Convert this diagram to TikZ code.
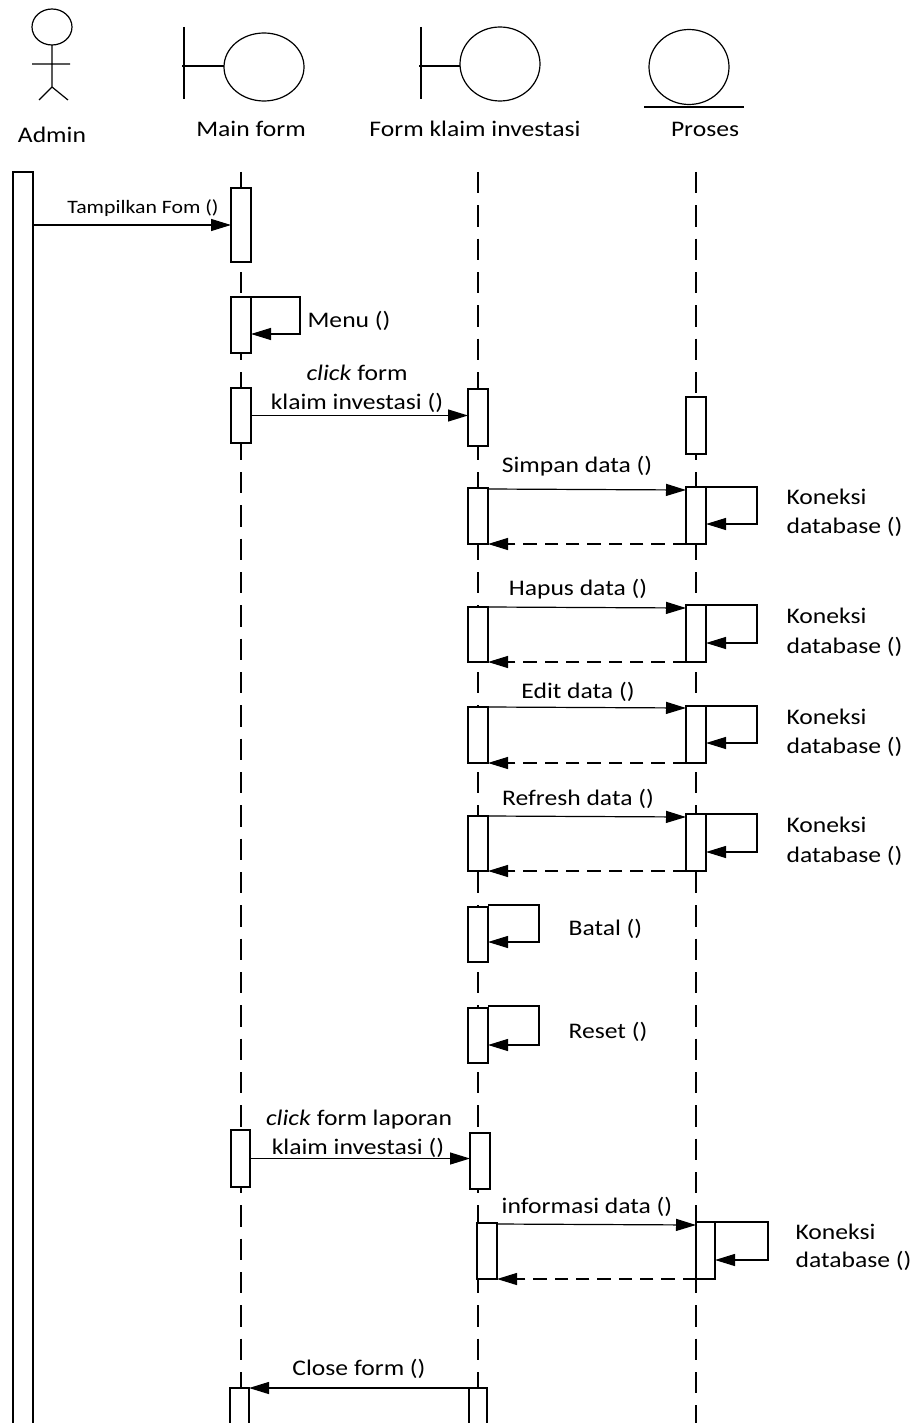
\documentclass[tikz,border=0pt]{standalone}
\usepackage{fontspec}
\setmainfont{Carlito}[FakeStretch=1.15]
\usetikzlibrary{arrows.meta,calc}
\newcommand\actbox[5]{\node[act, minimum width={(#4-#2)*0.75pt}, minimum height={(#5-#3)*0.75pt}] (#1) at (#2,#3) {};}
\begin{document}
\begin{tikzpicture}[x=0.75pt,y=-0.75pt, line width=0.9pt,
  act/.style={draw, fill=white, inner sep=0pt, outer sep=0pt, anchor=north west},
  msg/.style={-{Triangle[length=15pt,width=9pt]}},
  ret/.style={msg, dash pattern=on 10pt off 6pt},
  life/.style={dash pattern=on 16pt off 9pt},
  lbl/.style={font=\fontsize{16.7pt}{20pt}\selectfont, inner sep=0pt, anchor=base},
  lbll/.style={lbl, anchor=base west},
  small/.style={font=\fontsize{14.2pt}{17pt}\selectfont, inner sep=0pt, anchor=base}]
\useasboundingbox (0,0) rectangle (914,1423);
\fill[white] (0,0) rectangle (914,1423);
\clip (0,0) rectangle (914,1423);

% actor
\draw (52,27) ellipse [x radius=20, y radius=18];
\draw (52,45) -- (52,87) (32,64) -- (70,64) (39,100) -- (52,87) -- (68,100);
% boundaries
\draw (184,27) -- (184,99) (182,66) -- (224,66);
\draw (264,67) ellipse [x radius=40, y radius=34];
\draw (421,27) -- (421,99) (419,66) -- (460,66);
\draw (500,64) ellipse [x radius=40, y radius=37];
% entity
\draw (689,67) ellipse [x radius=40, y radius=37.5];
\draw (644,107) -- (744,107);

\node[lbl] (hAdmin) at (52,143) {Admin};
\node[lbl] (hMain) at (251,137) {Main form};
\node[lbl] (hForm) at (475,137) {Form klaim investasi};
\node[lbl] (hProses) at (705,137) {Proses};

% lifelines
\coordinate (mfTop) at (241,172); \coordinate (mfEnd) at (241,1430);
\coordinate (fkTop) at (478,172); \coordinate (fkEnd) at (478,1430);
\coordinate (prTop) at (696,172); \coordinate (prEnd) at (696,1430);
\draw[life] (mfTop) -- (mfEnd);
\draw[life] (fkTop) -- (fkEnd);
\draw[life] (prTop) -- (prEnd);

% activation boxes
\actbox{adm}{13}{172}{33}{1440}
\actbox{mf1}{231}{188}{251}{262}
\actbox{mf2}{231}{297}{251}{353}
\actbox{mf3}{231}{388}{251}{443}
\actbox{fk1}{468}{389}{488}{446}
\actbox{pr1}{686}{397}{706}{454}
\actbox{fk2}{468}{488}{488}{544}
\actbox{pr2}{686}{487}{706}{544}
\actbox{fk3}{468}{607}{488}{662}
\actbox{pr3}{686}{605}{706}{662}
\actbox{fk4}{468}{707}{488}{763}
\actbox{pr4}{686}{706}{706}{763}
\actbox{fk5}{468}{816}{488}{871}
\actbox{pr5}{686}{814}{706}{871}
\actbox{fk6}{468}{907}{488}{962}
\actbox{fk7}{468}{1008}{488}{1063}
\actbox{mf4}{231}{1130}{250}{1187}
\actbox{fk8}{470}{1133}{490}{1189}
\actbox{fk9}{477}{1223}{497}{1279}
\actbox{pr6}{696}{1222}{715}{1279}
\actbox{mf5}{230}{1388}{249}{1440}
\actbox{fk10}{469}{1388}{487}{1440}

% Tampilkan
\draw[msg] (adm.east |- mf1.west) -- (mf1.west);
\node[small] (mTamp) at (143,214) {Tampilkan Fom ()};
% Menu
\draw[msg] (mf2.north east) -- ++(49,0) |- ($(mf2.north east)+(0,37)$);
\node[lbll] (mMenu) at (307,327) {Menu ()};
% click form
\draw[msg] (mf3.east) -- (mf3.east -| fk1.west);
\node[lbl] (mClick1) at (357,380) {\textit{click} form};
\node[lbl] (mClick2) at (357,409) {klaim investasi ()};

% Simpan
\draw[msg] ([yshift=-0.75pt]fk2.north east) -- ([yshift=-2.25pt]pr2.north west);
\draw[ret] (pr2.south west) -- (fk2.south east);
\draw[msg] (pr2.north east) -- ++(51,0) |- ($(pr2.north east)+(0,37)$);
\node[lbl] (mSimpan) at (577,472) {Simpan data ()};
\node[lbll] (k1a) at (786,504) {Koneksi};
\node[lbll] (k1b) at (786,533) {database ()};

% Hapus
\draw[msg] (fk3.north east) -- ([yshift=-2.25pt]pr3.north west);
\draw[ret] (pr3.south west) -- (fk3.south east);
\draw[msg] (pr3.north east) -- ++(51,0) |- ($(pr3.north east)+(0,38)$);
\node[lbl] (mHapus) at (578,595) {Hapus data ()};
\node[lbll] (k2a) at (786,623) {Koneksi};
\node[lbll] (k2b) at (786,653) {database ()};

% Edit
\draw[msg] (fk4.north east) -- ([yshift=-1.5pt]pr4.north west);
\draw[ret] (pr4.south west) -- (fk4.south east);
\draw[msg] (pr4.north east) -- ++(51,0) |- ($(pr4.north east)+(0,37)$);
\node[lbl] (mEdit) at (578,698) {Edit data ()};
\node[lbll] (k3a) at (786,724) {Koneksi};
\node[lbll] (k3b) at (786,753) {database ()};

% Refresh
\draw[msg] (fk5.north east) -- ([yshift=-2.25pt]pr5.north west);
\draw[ret] (pr5.south west) -- (fk5.south east);
\draw[msg] (pr5.north east) -- ++(51,0) |- ($(pr5.north east)+(0,38)$);
\node[lbl] (mRefresh) at (578,805) {Refresh data ()};
\node[lbll] (k4a) at (786,832) {Koneksi};
\node[lbll] (k4b) at (786,862) {database ()};

% Batal
\draw[msg] ([yshift=1.5pt]fk6.north east) -- ++(51,0) |- ($(fk6.north east)+(0,35)$);
\node[lbll] (mBatal) at (568,935) {Batal ()};
% Reset
\draw[msg] ([yshift=1.5pt]fk7.north east) -- ++(51,0) |- ($(fk7.north east)+(0,37)$);
\node[lbll] (mReset) at (568,1038) {Reset ()};

% click form laporan
\draw[msg] (mf4.east) -- (mf4.east -| fk8.west);
\node[lbl] (mLap1) at (359,1125) {\textit{click} form laporan};
\node[lbl] (mLap2) at (358,1154) {klaim investasi ()};

% informasi
\draw[msg] ([yshift=-0.75pt]fk9.north east) -- ([yshift=-2.25pt]pr6.north west);
\draw[ret] (pr6.south west) -- (fk9.south east);
\draw[msg] (pr6.north east) -- ++(53,0) |- ($(pr6.north east)+(0,38)$);
\node[lbl] (mInfo) at (587,1213) {informasi data ()};
\node[lbll] (k5a) at (795,1239) {Koneksi};
\node[lbll] (k5b) at (795,1267) {database ()};

% Close
\draw[msg] (fk10.north west) -- (mf5.north east);
\node[lbl] (mClose) at (359,1375) {Close form ()};
\end{tikzpicture}
\end{document}
